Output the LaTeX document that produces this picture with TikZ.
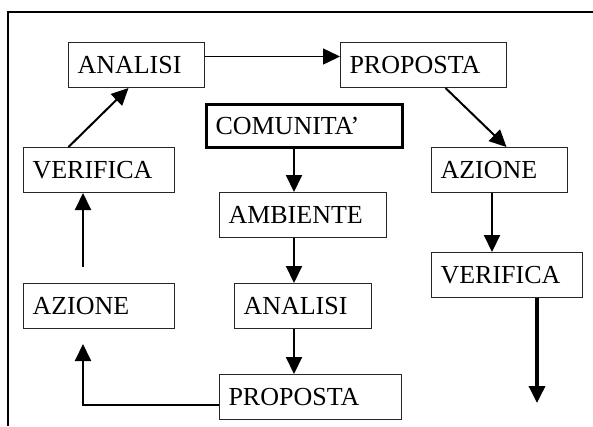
\documentclass[tikz,border=0pt]{standalone}
\usepackage{fontspec}
\setmainfont{Liberation Serif}
\usetikzlibrary{arrows.meta}
\begin{document}
\begin{tikzpicture}[x=1bp,y=-1bp,
  font=\fontsize{26bp}{30bp}\selectfont,
  box/.style={draw=black!85, line width=1bp, inner xsep=9bp, inner ysep=0pt,
    minimum height=45bp, text height=17.5bp, text depth=0pt, align=left, anchor=north west},
  arr/.style={line width=2bp, -{Triangle[length=17bp,width=16bp]}},
  frame/.style={line width=1.6bp}]
\useasboundingbox (0,0) rectangle (593,426);
% frame
\coordinate (ftl) at (8,12);
\coordinate (ftr) at (593,12);
\coordinate (fbl) at (8,426);
\draw[frame] (fbl) -- (ftl) -- (ftr);
% boxes
\node[box, text width=118bp] (a1) at (68,42) {ANALISI};
\node[box, text width=148bp] (p1) at (340,42) {PROPOSTA};
\node[box, text width=178bp, line width=3bp, draw=black, minimum height=43bp] (c) at (205,103) {COMUNITA’};
\node[box, text width=133bp] (v1) at (23,147) {VERIFICA};
\node[box, text width=118bp] (z2) at (431,147) {AZIONE};
\node[box, text width=149bp] (m1) at (219,192) {AMBIENTE};
\node[box, text width=133bp] (v2) at (431,252) {VERIFICA};
\node[box, text width=133bp] (z1) at (23,283) {AZIONE};
\node[box, text width=119bp] (m2) at (234,283) {ANALISI};
\node[box, text width=164bp] (p2) at (219,374) {PROPOSTA};
% helper coordinates
\coordinate (col) at (294,0);
\coordinate (col2) at (492,0);
\coordinate (endv) at (537,403);
\coordinate (zend) at (83,344);
\coordinate (zstart) at (83,267);
% connectors
\draw[arr, line width=1.5bp] ([yshift=8.5bp]a1.east) -- ([yshift=8.5bp]p1.west);
\draw[arr] ([xshift=22bp]p1.south) -- ([xshift=7bp]z2.north);
\draw[arr] ([xshift=-30.5bp]v1.north) -- ([xshift=-8bp]a1.south);
\draw[arr] (c.south -| col) -- (m1.north -| col);
\draw[arr] (m1.south -| col) -- (m2.north -| col);
\draw[arr] (m2.south -| col) -- (p2.north -| col);
\draw[arr] (z2.south -| col2) -- (v2.north -| col2);
\draw[arr, line width=3.5bp] (v2.south -| endv) -- (endv);
\draw[arr] ([yshift=-7.5bp]p2.west) -| (zend);
\draw[arr] (zstart) -- (zstart |- v1.south);
\end{tikzpicture}
\end{document}
